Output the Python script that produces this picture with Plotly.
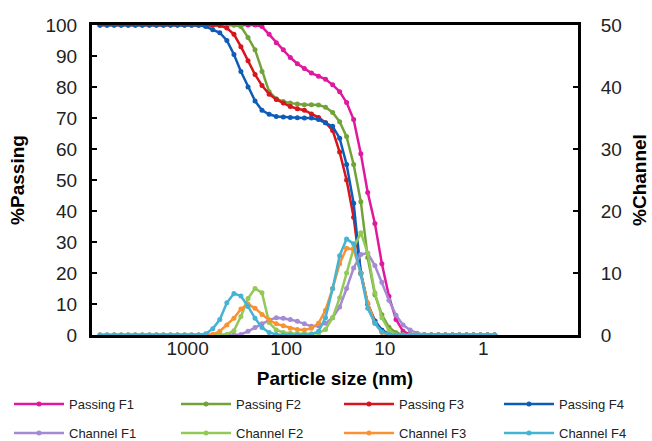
import plotly.graph_objects as go

# Particle size channels (nm), largest to smallest
size_nm = [7745, 6571, 5572, 4726, 4009, 3400, 2884, 2446, 2075, 1760,
           1493, 1266, 1074, 911, 773, 655, 556, 472, 400, 339,
           288, 244, 207, 176, 149, 126, 107, 90.9, 77.1, 65.4,
           55.5, 47.0, 39.9, 33.8, 28.7, 24.4, 20.7, 17.5, 14.9, 12.6,
           10.7, 9.07, 7.69, 6.52, 5.53, 4.69, 3.98, 3.38, 2.86, 2.43,
           2.06, 1.75, 1.48, 1.26, 1.07, 0.905, 0.767]

# Cumulative % passing (left axis)
passing_f1 = [100]*23 + [99.5, 97, 94.3, 92, 89.5, 87.5, 86, 84.5, 83.5, 82.5,
                         80.7, 78.5, 75, 69.5, 58.5, 46, 36, 23, 12.5, 5,
                         1.2, 0.2] + [0]*12
passing_f2 = [100]*20 + [99.5, 96, 92, 85, 78.5, 76.2, 75.3, 74.8, 74.5, 74.3,
                         74.3, 74.2, 73.5, 71.8, 68.8, 64, 55, 43, 25, 13,
                         6.5, 2.5, 0.7, 0.1] + [0]*13
passing_f3 = [100]*17 + [99.8, 99, 97, 93, 88.5, 84, 80.5, 77.7, 76, 74.8,
                         73.7, 73, 72.5, 71.3, 70.2, 68.5, 66, 59, 50, 38,
                         20, 10, 4.5, 1.5, 0.4] + [0]*15
passing_f4 = [100]*14 + [99.9, 99.5, 98.5, 97.5, 95, 90.5, 85, 80, 75.5, 72.5,
                         71.2, 70.5, 70.3, 70.2, 70.1, 70, 70, 69.5, 68.5, 67.3,
                         63.5, 55, 42.5, 20, 10, 4.5, 1.5, 0.3] + [0]*15

# % in channel (right axis)
channel_f1 = [0]*20 + [0.1, 0.6, 1.2, 1.8, 2.4, 2.8, 2.7, 2.5, 2.2, 1.8,
                       1.4, 1.5, 1.9, 2.8, 4.5, 7.5, 10.8, 13.0, 13.2, 11.2,
                       8.5, 5.6, 3.2, 1.6, 0.8, 0.3, 0.1] + [0]*10
channel_f2 = [0]*18 + [0.1, 0.7, 3.0, 5.9, 7.5, 6.8, 2.0, 0.8, 0.4, 0.3,
                       0.2, 0.2, 0.2, 0.3, 0.9, 2.8, 6.0, 10.0, 14.0, 16.5,
                       13.2, 6.8, 2.8, 0.7, 0.1] + [0]*14
channel_f3 = [0]*16 + [0.1, 0.6, 1.6, 2.7, 4.2, 5.0, 4.3, 3.3, 2.4, 1.8,
                       1.5, 1.1, 0.9, 0.8, 1.1, 1.9, 4.0, 7.5, 11.5, 14.0,
                       13.8, 10.0, 5.2, 1.9, 0.4] + [0]*16
channel_f4 = [0]*15 + [0.2, 1.0, 2.5, 5.2, 6.7, 6.3, 4.6, 2.7, 1.2, 0.4,
                       0.1, 0, 0, 0, 0, 0.1, 0.6, 2.8, 7.5, 12.8, 15.5,
                       14.7, 9.8, 4.3, 1.9, 0.5, 0.1] + [0]*15

x_tick_vals = [1000, 100, 10, 1]
x_tick_text = ["1000", "100", "10", "1"]

passing_series = [
    ("Passing F1", passing_f1, "#E0189E"),
    ("Passing F2", passing_f2, "#72A33A"),
    ("Passing F3", passing_f3, "#D8141C"),
    ("Passing F4", passing_f4, "#0F5CB8"),
]
channel_series = [
    ("Channel F1", channel_f1, "#A48AD2"),
    ("Channel F2", channel_f2, "#92C957"),
    ("Channel F3", channel_f3, "#F99233"),
    ("Channel F4", channel_f4, "#45B3D3"),
]

FONT = "Arial, Liberation Sans, sans-serif"
W, H = 652, 441

# legend slots: one per series, 4 columns x 2 rows under the plot
col_left_px = [9, 176, 339, 499]
row_center_px = [404, 433]

fig = go.Figure()
legend_layouts = {}
slot = 0
for row, (series, yax) in enumerate([(passing_series, "y"), (channel_series, "y2")]):
    for col, (name, vals, color) in enumerate(series):
        slot += 1
        lg = "legend" if slot == 1 else f"legend{slot}"
        fig.add_trace(go.Scatter(
            x=size_nm, y=vals, name=name, mode="lines+markers",
            line=dict(color=color, width=2.5), marker=dict(color=color, size=5),
            yaxis=yax, legend=lg))
        legend_layouts[lg] = dict(
            orientation="h", xref="container", yref="container",
            x=col_left_px[col] / W, y=1 - row_center_px[row] / H,
            xanchor="left", yanchor="middle", itemwidth=50,
            font=dict(family=FONT, size=13, color="#222"),
            bgcolor="rgba(0,0,0,0)",
        )

fig.update_layout(
    width=W, height=H,
    margin=dict(l=92, r=74, t=25, b=106, autoexpand=False),
    paper_bgcolor="white", plot_bgcolor="white",
    font=dict(family=FONT, color="#222"),
    xaxis=dict(
        type="log", range=[3.97, -0.96], automargin=False,
        tickvals=x_tick_vals, ticktext=x_tick_text, ticks="",
        tickfont=dict(size=19, color="#222"), ticklabelstandoff=-6,
        showgrid=False, zeroline=False,
        showline=True, linecolor="black", linewidth=3, mirror=True,
        title=dict(text="<b>Particle size (nm)</b>", font=dict(size=19, color="black"), standoff=14),
    ),
    yaxis=dict(
        range=[0, 100], dtick=10, ticks="inside", ticklen=5, tickwidth=2,
        tickcolor="black", tickfont=dict(size=19, color="#222"),
        ticklabelstandoff=8, automargin=False,
        showgrid=False, zeroline=False,
        showline=True, linecolor="black", linewidth=3,
        title=dict(text="<b>%Passing</b>", font=dict(size=19, color="black"), standoff=16),
    ),
    yaxis2=dict(
        range=[0, 50], dtick=10, ticks="inside", ticklen=5, tickwidth=2,
        tickcolor="black", tickfont=dict(size=19, color="#222"),
        ticklabelstandoff=16, automargin=False,
        overlaying="y", side="right",
        showgrid=False, zeroline=False,
        showline=True, linecolor="black", linewidth=3,
        title=dict(text="<b>%Channel</b>", font=dict(size=19, color="black"), standoff=12),
    ),
    showlegend=True,
    **legend_layouts,
)

fig.write_html("out.html")
